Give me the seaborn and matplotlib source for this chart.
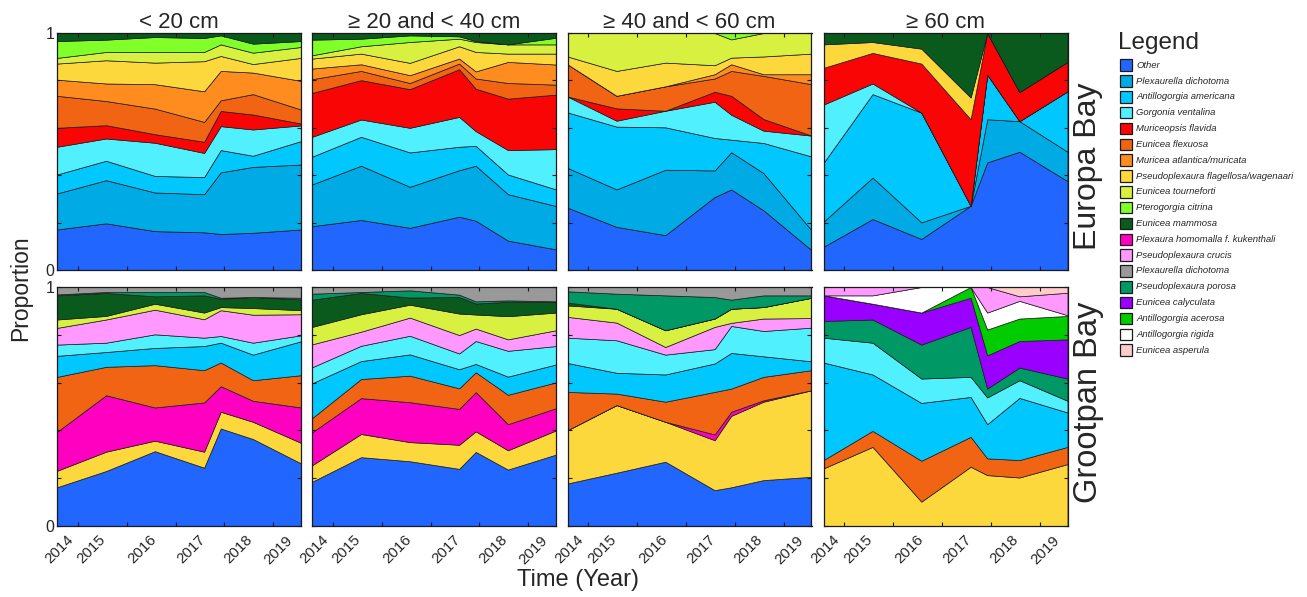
import matplotlib
matplotlib.use('Agg')
import matplotlib.pyplot as plt
from matplotlib.patches import Rectangle
import seaborn as sns

# survey dates (decimal year) and the odd year labels of the original axis
survey_time = [2013.57, 2014.575, 2015.575, 2016.585, 2016.925, 2017.585, 2018.57]
year_ticks = [2014, 2015, 2016, 2017, 2018]
year_label_pos = [2013.96, 2014.62, 2015.67, 2016.66, 2017.62, 2018.46]
year_labels = ['2014', '2015', '2016', '2017', '2018', '2019']

size_classes = ['< 20 cm', '\u2265 20 and < 40 cm', '\u2265 40 and < 60 cm', '\u2265 60 cm']
bays = ['Europa Bay', 'Grootpan Bay']

species = ['OTH', 'PDI', 'AAM', 'GVE', 'MFL', 'EFL', 'MAT', 'PFW', 'ETO', 'PCI',
           'EMA', 'PHK', 'PCR', 'PDG', 'PPO', 'ECA', 'AAC', 'ARI', 'EAS']
species_names = ['Other', 'Plexaurella dichotoma', 'Antillogorgia americana',
                 'Gorgonia ventalina', 'Muriceopsis flavida', 'Eunicea flexuosa',
                 'Muricea atlantica/muricata', 'Pseudoplexaura flagellosa/wagenaari',
                 'Eunicea tourneforti', 'Pterogorgia citrina', 'Eunicea mammosa',
                 'Plexaura homomalla f. kukenthali', 'Pseudoplexaura crucis',
                 'Plexaurella dichotoma', 'Pseudoplexaura porosa', 'Eunicea calyculata',
                 'Antillogorgia acerosa', 'Antillogorgia rigida', 'Eunicea asperula']
species_colors = ['#2066FF', '#00AAE4', '#00C8FF', '#50F0FF', '#FA0505', '#F06414',
                  '#FF8C1E', '#FDD83C', '#D8F040', '#80FF28', '#0A5A1E', '#FF00C0',
                  '#FF99FF', '#999999', '#009966', '#9900FF', '#00CC00', '#FFFFFF',
                  '#FFCCCC']

# proportions per survey, bottom layer first
eb_lt20 = {
    'OTH': [.171, .197, .164, .159, .152, .157, .171],
    'PDI': [.152, .182, .163, .161, .260, .278, .274],
    'AAM': [.080, .082, .070, .072, .094, .047, .099],
    'GVE': [.117, .094, .140, .102, .101, .111, .066],
    'MFL': [.080, .056, .036, .047, .064, .063, .008],
    'EFL': [.135, .102, .108, .084, .045, .086, .059],
    'MAT': [.068, .074, .103, .129, .124, .091, .121],
    'PFW': [.068, .098, .091, .127, .063, .036, .097],
    'ETO': [.024, .035, .045, .039, .049, .048, .046],
    'PCI': [.071, .052, .063, .059, .038, .038, .025],
    'EMA': [.034, .028, .017, .021, .010, .045, .034],
}
eb_20_40 = {
    'OTH': [.185, .211, .178, .225, .208, .124, .087],
    'PDI': [.176, .229, .173, .196, .232, .196, .183],
    'AAM': [.117, .122, .145, .099, .084, .083, .070],
    'GVE': [.084, .073, .104, .126, .062, .103, .170],
    'MFL': [.185, .166, .163, .201, .179, .217, .230],
    'EFL': [.058, .039, .026, .024, .043, .066, .042],
    'MAT': [.045, .028, .033, .021, .030, .089, .085],
    'PFW': [.042, .045, .052, .052, .082, .035, .046],
    'ETO': [.014, .031, .088, .032, .042, .039, .039],
    'PCI': [.066, .032, .028, .010, .004, .000, .028],
    'EMA': [.028, .024, .010, .014, .034, .048, .020],
}
eb_40_60 = {
    'OTH': [.263, .182, .147, .308, .340, .252, .084],
    'PDI': [.168, .158, .276, .112, .157, .157, .084],
    'AAM': [.234, .265, .179, .137, .053, .127, .311],
    'GVE': [.067, .025, .070, .153, .105, .052, .088],
    'MFL': [.000, .052, .000, .042, .080, .049, .000],
    'EFL': [.136, .053, .103, .056, .105, .182, .217],
    'MAT': [.000, .000, .000, .018, .028, .007, .042],
    'PFW': [.033, .105, .100, .038, .028, .075, .087],
    'ETO': [.099, .160, .125, .136, .077, .099, .087],
    'PCI': [.000, .000, .000, .000, .027, .000, .000],
}
eb_ge60 = {
    'OTH': [.098, .215, .131, .271, .454, .499, .375],
    'PDI': [.106, .175, .070, .000, .182, .129, .124],
    'AAM': [.248, .352, .463, .000, .188, .000, .255],
    'GVE': [.246, .045, .000, .000, .000, .000, .000],
    'MFL': [.155, .129, .207, .365, .176, .123, .124],
    'PFW': [.099, .046, .063, .092, .000, .000, .000],
    'EMA': [.048, .038, .066, .272, .000, .249, .122],
}
gb_lt20 = {
    'OTH': [.162, .230, .313, .244, .408, .364, .262],
    'PFW': [.069, .081, .044, .067, .070, .072, .086],
    'PHK': [.163, .236, .139, .206, .107, .088, .148],
    'EFL': [.230, .119, .177, .135, .099, .086, .135],
    'AAM': [.088, .062, .072, .101, .083, .107, .142],
    'GVE': [.047, .039, .057, .035, .028, .050, .025],
    'PCR': [.070, .097, .103, .077, .108, .117, .088],
    'ETO': [.035, .015, .025, .028, .013, .028, .017],
    'EMA': [.101, .096, .031, .072, .035, .046, .045],
    'PPO': [.004, .004, .018, .014, .004, .000, .007],
    'PDG': [.031, .021, .021, .021, .045, .042, .045],
}
gb_20_40 = {
    'OTH': [.185, .288, .271, .239, .310, .236, .299],
    'PFW': [.069, .097, .080, .101, .086, .081, .101],
    'PHK': [.138, .150, .167, .150, .164, .109, .093],
    'EFL': [.059, .080, .111, .086, .083, .123, .108],
    'AAM': [.146, .075, .089, .080, .035, .076, .075],
    'GVE': [.067, .064, .078, .066, .096, .108, .077],
    'PCR': [.096, .059, .076, .077, .052, .048, .066],
    'ETO': [.073, .073, .054, .090, .059, .097, .074],
    'EMA': [.114, .089, .030, .069, .046, .060, .045],
    'PPO': [.025, .004, .030, .010, .009, .006, .002],
    'PDG': [.028, .021, .014, .032, .060, .056, .060],
}
gb_40_60 = {
    'OTH': [.178, .223, .269, .150, .162, .192, .206],
    'PFW': [.223, .283, .167, .209, .299, .328, .362],
    'PHK': [.000, .000, .000, .024, .017, .006, .000],
    'EFL': [.160, .048, .084, .178, .097, .098, .084],
    'AAM': [.121, .087, .114, .119, .149, .086, .037],
    'GVE': [.106, .136, .083, .060, .113, .106, .141],
    'PCR': [.087, .074, .032, .093, .013, .052, .040],
    'ETO': [.048, .058, .070, .035, .059, .048, .085],
    'EMA': [.012, .000, .000, .000, .000, .000, .000],
    'PPO': [.047, .063, .146, .090, .038, .049, .010],
    'PDG': [.018, .028, .035, .042, .053, .035, .035],
}
gb_ge60 = {
    'PFW': [.241, .331, .102, .248, .213, .203, .259],
    'EFL': [.035, .067, .171, .125, .070, .073, .072],
    'AAM': [.408, .236, .242, .167, .143, .260, .144],
    'GVE': [.104, .133, .102, .084, .112, .074, .049],
    'PPO': [.070, .097, .142, .209, .037, .053, .093],
    'ECA': [.107, .066, .134, .122, .139, .111, .164],
    'AAC': [.000, .000, .000, .045, .108, .094, .098],
    'ARI': [.000, .035, .107, .000, .071, .074, .003],
    'PCR': [.035, .035, .000, .000, .107, .019, .094],
    'EAS': [.000, .000, .000, .000, .000, .039, .024],
}

panels = [[eb_lt20, eb_20_40, eb_40_60, eb_ge60],
          [gb_lt20, gb_20_40, gb_40_60, gb_ge60]]
color_of = dict(zip(species, species_colors))

sns.set_theme(style='ticks')
plt.rcParams['font.family'] = ['Liberation Sans', 'DejaVu Sans']
plt.rcParams['axes.edgecolor'] = '#1a1a1a'
plt.rcParams['axes.linewidth'] = 0.9
plt.rcParams['axes.axisbelow'] = False

W, H = 1307, 597
fig = plt.figure(figsize=(W / 100, H / 100), dpi=100)

col_left = [57, 312, 567.5, 823.5]
col_w = 244
row_top = [33, 287]
row_h = [237, 239]

for r in range(2):
    for c in range(4):
        ax = fig.add_axes([col_left[c] / W, 1 - (row_top[r] + row_h[r]) / H,
                           col_w / W, row_h[r] / H])
        data = panels[r][c]
        keys = list(data)
        ax.stackplot(survey_time, *[data[k] for k in keys],
                     colors=[color_of[k] for k in keys],
                     edgecolor='k', linewidth=0.5)
        ax.set_axisbelow(False)
        ax.set_xlim(survey_time[0], survey_time[-1])
        ax.set_ylim(0, 1)

        ax.set_xticks(year_ticks, minor=True)
        ax.set_xticks(year_label_pos)
        ax.set_yticks([0, 0.2, 0.4, 0.6, 0.8, 1.0])
        ax.tick_params(axis='x', which='major', length=0, pad=5)
        ax.tick_params(axis='x', which='minor', direction='in', length=3.2,
                       width=0.8, top=True, bottom=True, color='k')
        ax.tick_params(axis='y', which='major', direction='in', length=3.2,
                       width=0.8, left=True, right=True, pad=2, color='k')
        if r == 1:
            ax.set_xticklabels(year_labels, rotation=45, ha='right', va='top',
                               fontsize=10.8)
        else:
            ax.set_xticklabels([])
            ax.set_title(size_classes[c], fontsize=16, pad=2)
        if c == 0:
            ax.set_yticklabels(['0', '', '', '', '', '1'], fontsize=11.5)
        else:
            ax.set_yticklabels([])
        for s in ax.spines.values():
            s.set_zorder(5)

fig.text(1088 / W, 1 - 166 / H, bays[0], rotation=90, fontsize=23,
         ha='center', va='center')
fig.text(1088 / W, 1 - 402 / H, bays[1], rotation=90, fontsize=23.5,
         ha='center', va='center')
fig.text(21 / W, 1 - 288 / H, 'Proportion', rotation=90, fontsize=16.5,
         ha='center', va='center')
fig.text(578 / W, 1 - 580 / H, 'Time (Year)', fontsize=17, ha='center',
         va='center')

# legend drawn by hand to keep the original spacing
fig.text(1118 / W, 1 - 49.5 / H, 'Legend', fontsize=17.5, ha='left',
         va='baseline')
for i, (name, col) in enumerate(zip(species_names, species_colors)):
    yc = 65.2 + i * 15.83
    fig.add_artist(Rectangle((1120 / W, 1 - (yc + 5.8) / H), 11.6 / W, 11.6 / H,
                             transform=fig.transFigure, facecolor=col,
                             edgecolor='k', linewidth=0.9))
    fig.text(1136 / W, 1 - yc / H, name, fontsize=6.8, style='italic',
             color='#262626', ha='left', va='center')

fig.savefig('out.png', dpi=100)
